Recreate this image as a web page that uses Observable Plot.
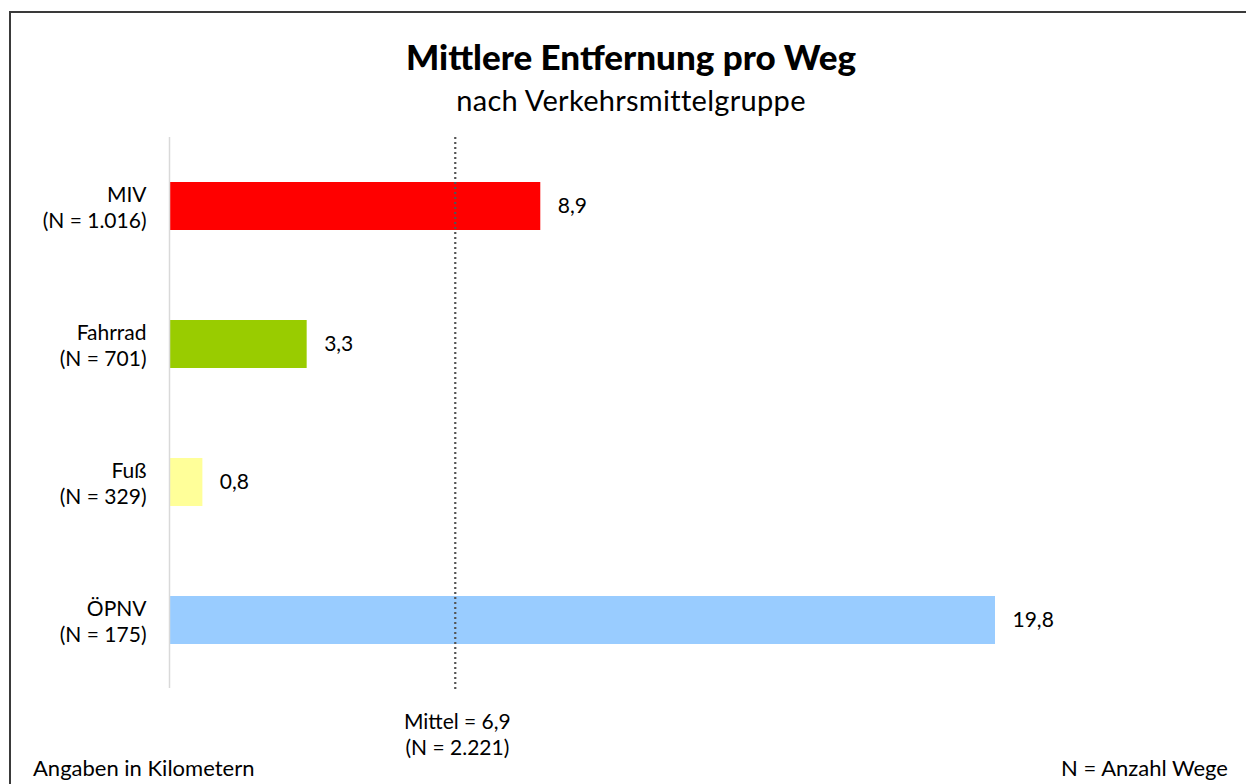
<!DOCTYPE html>
<html>
<head>
<meta charset="utf-8">
<script src="https://cdn.jsdelivr.net/npm/d3@7"></script>
<script src="https://cdn.jsdelivr.net/npm/@observablehq/plot@0.6"></script>
<style>
  html, body { margin: 0; padding: 0; background: #fff; }
  #wrap { position: relative; width: 1246px; height: 784px; overflow: hidden; font-family: Lato, "Open Sans", sans-serif; color: #000; }
  #frame { position: absolute; left: 9px; top: 11px; width: 1400px; height: 900px; border-top: 2px solid #3a3a3a; border-left: 2px solid #3a3a3a; box-sizing: border-box; }
  .t { position: absolute; white-space: nowrap; line-height: 1; }
  #title { left: 0; width: 1262px; top: 39px; text-align: center; font-size: 35px; font-weight: 900; }
  #subtitle { left: 0; width: 1262px; top: 85px; text-align: center; font-size: 29px; letter-spacing: 0.3px; }
  #left { left: 33px; top: 757px; font-size: 22px; }
  #right { right: 18px; top: 757px; font-size: 22px; }
  #chart { position: absolute; left: 0; top: 0; }
</style>
</head>
<body>
<div id="wrap">
  <div id="frame"></div>
  <div class="t" id="title">Mittlere Entfernung pro Weg</div>
  <div class="t" id="subtitle">nach Verkehrsmittelgruppe</div>
  <div class="t" id="left">Angaben in Kilometern</div>
  <div class="t" id="right">N = Anzahl Wege</div>
  <div id="chart"></div>
</div>
<script>
const categories = ["MIV", "Fahrrad", "Fuß", "ÖPNV"];
const counts = ["1.016", "701", "329", "175"];
const values = [8.9, 3.3, 0.8, 19.8];
const colors = ["#ff0000", "#99cc00", "#ffff99", "#99ccff"];
const meanValue = 6.9;
const meanCount = "2.221";

const data = categories.map((c, i) => ({ cat: c, n: counts[i], value: values[i], color: colors[i] }));
const fmt = v => d3.format(".1f")(v).replace(".", ",");

const chart = Plot.plot({
  width: 1246,
  height: 784,
  marginLeft: 169,
  marginRight: 251,
  marginTop: 137,
  marginBottom: 96,
  style: { fontFamily: "Lato, 'Open Sans', sans-serif", fontSize: "21px", color: "#000", background: "transparent" },
  x: { domain: [0, 19.8], axis: null },
  y: { domain: categories, paddingInner: 0.653, paddingOuter: 0.318, label: null },
  marks: [
    Plot.barX(data, { y: "cat", x: "value", fill: "color" }),
    Plot.ruleX([0], { stroke: "#d9d9d9", strokeWidth: 1.5 }),
    Plot.ruleX([meanValue], { x: d => d - 0.05, stroke: "#555", strokeWidth: 2.2, strokeDasharray: "2,3", insetBottom: -4 }),
    Plot.text(data, { y: "cat", x: "value", text: d => fmt(d.value), textAnchor: "start", dx: 17, fontSize: 21, fill: "#000" }),
    Plot.axisY({
      tickSize: 0,
      tickPadding: 23,
      fontSize: 21,
      lineHeight: 1.27,
      tickFormat: c => `${c}\n(N = ${counts[categories.indexOf(c)]})`,
      label: null
    }),
    Plot.text([meanValue], { x: d => d, frameAnchor: "bottom", lineAnchor: "top", dy: 22, lineHeight: 1.25, fontSize: 21, fill: "#000", text: d => `Mittel = ${fmt(d)}\n(N = ${meanCount})` })
  ]
});
document.getElementById("chart").appendChild(chart);
</script>
</body>
</html>
